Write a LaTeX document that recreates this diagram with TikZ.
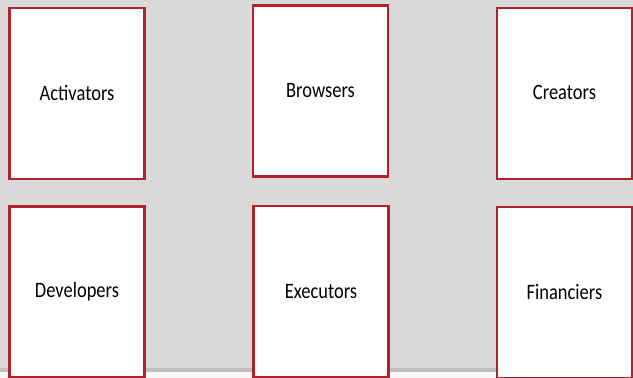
\documentclass[tikz,border=0pt]{standalone}
\usepackage{fontspec}
\newfontfamily\boxfont{Carlito}[FakeStretch=0.84]
\usetikzlibrary{positioning}
\definecolor{boxred}{RGB}{178,34,46}
\definecolor{backgray}{RGB}{217,217,217}
\definecolor{shadegray}{RGB}{191,191,191}

\begin{document}
\begin{tikzpicture}[x=1pt, y=-1pt]
    \tikzset{role/.style={draw=boxred, line width=2.2pt, fill=white, minimum width=135pt, minimum height=171pt, inner sep=0pt, font=\boxfont\fontsize{22}{24}\selectfont},
        canvas/.style={fill=backgray}
    }

    \useasboundingbox (0,0) rectangle (633,378);
    \fill [white!95!gray] (0,0) rectangle (633,378);
    \fill [canvas] (0,0) rectangle (633,372);
    \fill [shadegray] (0,368) rectangle (633,372);

    % top row
    \foreach \n / \x / \y / \t in {A/77/93.5/Activators, B/320.5/91/Browsers, C/564.5/93.5/Creators} {
        \node (Role\n) [role] at (\x, \y) {\raisebox{2pt}{\t}};
    }
    % bottom row
    \foreach \n / \x / \y / \t in {D/77/292/Developers, E/321/291.5/Executors, F/564.5/292.5/Financiers} {
        \node (Role\n) [role] at (\x, \y) {\t};
    }
\end{tikzpicture}
\end{document}
